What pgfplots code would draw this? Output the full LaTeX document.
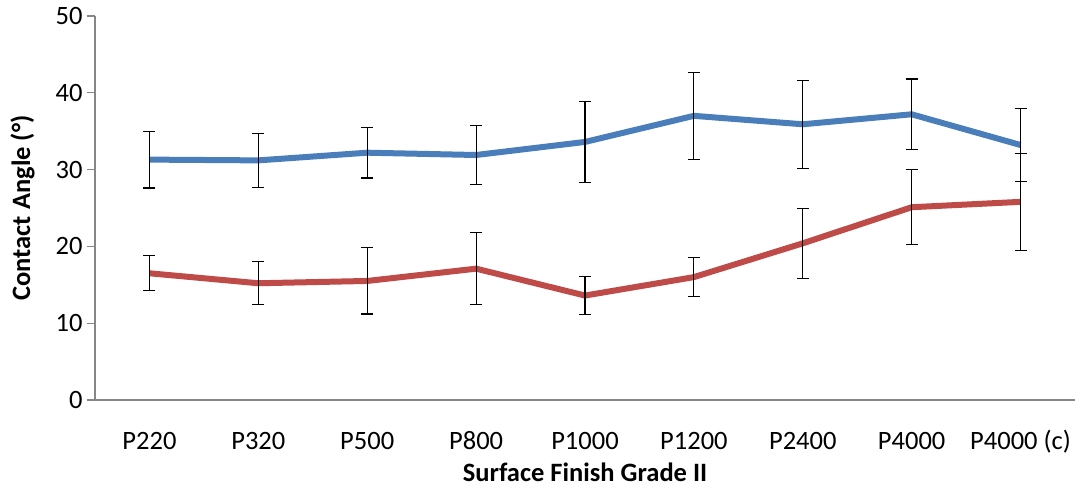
\documentclass[border=0pt]{standalone}
\usepackage{fontspec}
\setmainfont{Carlito}
\usepackage{pgfplots}
\pgfplotsset{compat=1.18}
\definecolor{sblue}{HTML}{4A7EBB}
\definecolor{sred}{HTML}{BE4B48}
\definecolor{axgray}{HTML}{868686}
\begin{document}
\begin{tikzpicture}
\begin{axis}[
  scale only axis,
  width=980pt, height=384pt,
  xmin=-0.5, xmax=8.5,
  ymin=0, ymax=50,
  ytick={0,10,20,30,40,50},
  xtick={0,...,8},
  xticklabels={P220,P320,P500,P800,P1000,P1200,P2400,P4000,P4000 (c)},
  extra x ticks={-0.5,0.5,1.5,2.5,3.5,4.5,5.5,6.5,7.5,8.5},
  extra x tick labels={},
  extra x tick style={major tick length=9pt, tick style={axgray, line width=1.2pt}},
  axis x line=bottom, axis y line=left,
  axis line style={-, axgray, line width=1.5pt},
  x tick style={draw=none},
  y tick style={axgray, line width=1.2pt},
  tick align=outside,
  major tick length=8pt,
  /pgf/number format/assume math mode=true,
  tick label style={font=\fontsize{26.5}{30}\selectfont, text=black},
  xticklabel style={anchor=base, yshift=-42pt},
  yticklabel style={xshift=-1pt},
  xlabel={\bfseries Surface Finish Grade II},
  ylabel={\bfseries Contact Angle (°)},
  label style={font=\fontsize{26.5}{30}\selectfont},
  xlabel style={at={(axis description cs:0.5,0)}, anchor=base, inner sep=0pt, yshift=-82pt},
  ylabel style={yshift=14pt},
  clip=false,
]
\addplot[sred, line width=6pt, line join=round, no marks,
  error bars/.cd, y dir=both, y explicit,
  error bar style={black, line width=1.1pt},
  error mark options={rotate=90, mark size=6pt, black, line width=1.1pt}]
coordinates {
 (0,16.5) +- (0,2.3)
 (1,15.2) +- (0,2.8)
 (2,15.5) +- (0,4.3)
 (3,17.1) +- (0,4.7)
 (4,13.6) +- (0,2.45)
 (5,16.0) +- (0,2.55)
 (6,20.4) +- (0,4.55)
 (7,25.1) +- (0,4.9)
 (8,25.8) +- (0,6.35)
};
\addplot[sblue, line width=6pt, line join=round, no marks,
  error bars/.cd, y dir=both, y explicit,
  error bar style={black, line width=1.1pt},
  error mark options={rotate=90, mark size=6pt, black, line width=1.1pt}]
coordinates {
 (0,31.3) +- (0,3.7)
 (1,31.2) +- (0,3.55)
 (2,32.2) +- (0,3.3)
 (3,31.9) +- (0,3.85)
 (4,33.6) +- (0,5.25)
 (5,37.0) +- (0,5.65)
 (6,35.9) +- (0,5.75)
 (7,37.2) +- (0,4.6)
 (8,33.2) +- (0,4.8)
};
\end{axis}
\pgfresetboundingbox
\path (current axis.south west) ++(-95pt,-88pt) coordinate (bbA);
\path (current axis.north east) ++(3pt,16pt) coordinate (bbB);
\path (bbA) rectangle (bbB);
\end{tikzpicture}
\end{document}
